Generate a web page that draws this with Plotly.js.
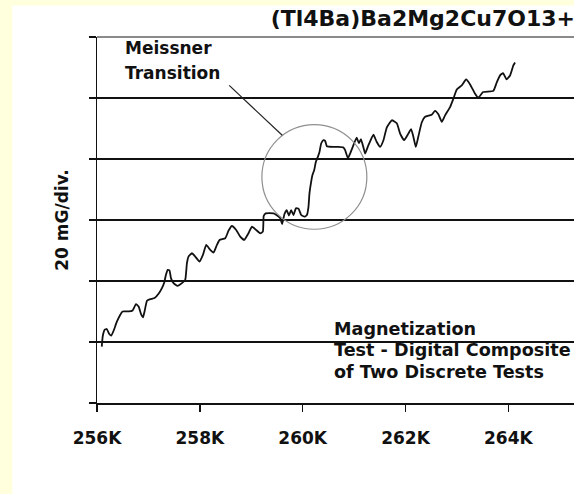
<!DOCTYPE html>
<html>
<head>
<meta charset="utf-8">
<script src="https://cdn.plot.ly/plotly-3.0.1.min.js"></script>
<style>
  html, body { margin: 0; padding: 0; background: #ffffdd; }
  #chart { width: 574px; height: 494px; }
</style>
</head>
<body>
<div id="chart"></div>
<script>
// Temperature (K) and magnetization signal (in 20 mG divisions above the baseline)
const temperatureK = [
  256.093, 256.113, 256.152, 256.190, 256.239, 256.278, 256.323, 256.389, 256.453, 256.498,
  256.614, 256.692, 256.758, 256.809, 256.861, 256.894, 256.925, 256.972, 257.036, 257.120,
  257.197, 257.263, 257.308, 257.341, 257.376, 257.411, 257.438, 257.489, 257.567, 257.652,
  257.716, 257.749, 257.780, 257.846, 257.911, 257.994, 258.060, 258.124, 258.202, 258.266,
  258.332, 258.383, 258.494, 258.558, 258.624, 258.707, 258.785, 258.863, 258.946, 259.013,
  259.096, 259.174, 259.226, 259.242, 259.281, 259.436, 259.504, 259.563, 259.601, 259.646,
  259.689, 259.734, 259.776, 259.821, 259.868, 259.918, 259.971, 260.035, 260.082, 260.113,
  260.132, 260.165, 260.190, 260.224, 260.257, 260.295, 260.327, 260.360, 260.404, 260.437,
  260.470, 260.599, 260.696, 260.793, 260.826, 260.879, 260.923, 260.987, 261.050, 261.094,
  261.133, 261.186, 261.215, 261.279, 261.376, 261.438, 261.506, 261.571, 261.637, 261.734,
  261.831, 261.895, 261.973, 262.056, 262.109, 262.154, 262.200, 262.251, 262.317, 262.381,
  262.507, 262.575, 262.639, 262.706, 262.770, 262.867, 262.931, 262.997, 263.094, 263.178,
  263.256, 263.353, 263.417, 263.508, 263.708, 263.775, 263.839, 263.897, 263.965, 264.033,
  264.097, 264.130
];
const signalDiv = [
  0.924, 1.103, 1.202, 1.213, 1.131, 1.103, 1.185, 1.337, 1.447, 1.501,
  1.501, 1.517, 1.622, 1.582, 1.447, 1.403, 1.501, 1.676, 1.703, 1.720,
  1.790, 1.883, 1.975, 2.101, 2.182, 2.171, 2.047, 1.965, 1.921, 1.965,
  2.019, 2.292, 2.400, 2.455, 2.400, 2.318, 2.428, 2.591, 2.509, 2.465,
  2.591, 2.673, 2.701, 2.825, 2.902, 2.836, 2.727, 2.673, 2.782, 2.890,
  2.836, 2.782, 2.809, 3.065, 3.109, 3.109, 3.073, 3.033, 2.934, 3.098,
  3.163, 3.073, 3.163, 3.082, 3.191, 3.188, 3.082, 3.054, 3.082, 3.217,
  3.436, 3.626, 3.736, 3.817, 3.953, 4.035, 4.116, 4.254, 4.308, 4.296,
  4.210, 4.198, 4.198, 4.188, 4.144, 4.013, 4.090, 4.226, 4.349, 4.259,
  4.324, 4.177, 4.090, 4.226, 4.398, 4.283, 4.198, 4.308, 4.520, 4.635,
  4.586, 4.417, 4.308, 4.417, 4.488, 4.362, 4.198, 4.373, 4.602, 4.692,
  4.725, 4.790, 4.733, 4.607, 4.716, 4.852, 4.989, 5.141, 5.207, 5.305,
  5.223, 5.071, 5.006, 5.097, 5.117, 5.256, 5.370, 5.408, 5.305, 5.370,
  5.534, 5.583
];
const tickValues = [256, 258, 260, 262, 264];
const tickLabels = ['256K', '258K', '260K', '262K', '264K'];
const divisionTicks = [0, 1, 2, 3, 4, 5, 6];
const gridDivisions = [1, 2, 3, 4, 5];

const titleText = '(Tl4Ba)Ba2Mg2Cu7O13+';
const noteTransition = ['Meissner', 'Transition'];
const noteTest = ['Magnetization', 'Test - Digital Composite', 'of Two Discrete Tests'];

// Marked transition region (circle) and pointer, in data units
const circleK = [259.207, 261.248];
const circleDiv = [2.848, 4.564];
const pointerK = [258.571, 259.602];
const pointerDiv = [5.207, 4.389];

// Layout geometry (pixels)
const W = 574, H = 494;
const L = 96.7, R = 0, T = 36.5, B = 90.5;
const plotW = W - L - R, plotH = H - T - B;
const px2x = p => (p - L) / plotW;
const py2y = p => (H - B - p) / plotH;

const FONT = '"DejaVu Sans", Verdana, sans-serif';
const INK = '#111';

const trace = {
  x: temperatureK, y: signalDiv, type: 'scatter', mode: 'lines',
  line: { color: INK, width: 1.8, shape: 'spline', smoothing: 0.4 },
  hoverinfo: 'skip', showlegend: false
};

const annotations = [];
noteTransition.forEach((t, i) => annotations.push({
  text: '<b>' + t + '</b>', xref: 'paper', yref: 'paper',
  x: px2x(123), y: py2y(48 + i * 25), xanchor: 'left', yanchor: 'middle',
  showarrow: false, font: { family: FONT, size: 17, color: INK }
}));
noteTest.forEach((t, i) => annotations.push({
  text: '<b>' + t + '</b>', xref: 'paper', yref: 'paper',
  x: px2x(332), y: py2y(329 + i * 21.5), xanchor: 'left', yanchor: 'middle',
  showarrow: false, font: { family: FONT, size: 17.6, color: INK }
}));

const layout = {
  width: W, height: H,
  margin: { l: L, r: R, t: T, b: B, pad: 0 },
  paper_bgcolor: '#ffffdd',
  plot_bgcolor: '#ffffff',
  showlegend: false,
  title: {
    text: '<b>' + titleText + '</b>',
    xref: 'paper', x: px2x(270.5), xanchor: 'left',
    yref: 'container', y: 1 - 18 / H, yanchor: 'middle',
    font: { family: FONT, size: 22, color: INK }
  },
  xaxis: {
    range: [256, 256 + plotW / 51.45],
    tickvals: tickValues, ticktext: tickLabels,
    ticks: 'outside', ticklen: 7, tickwidth: 1.5, tickcolor: INK,
    ticklabelstandoff: 12,
    showline: true, linecolor: INK, linewidth: 1.5,
    showgrid: false, zeroline: false,
    tickfont: { family: FONT, size: 17, color: INK, weight: 'bold' },
    fixedrange: true
  },
  yaxis: {
    range: [0, 6],
    tickvals: divisionTicks,
    showticklabels: false,
    ticks: 'outside', ticklen: 7, tickwidth: 1.5, tickcolor: INK,
    showline: true, linecolor: INK, linewidth: 1.5,
    showgrid: false, zeroline: false,
    title: { text: '<b>20 mG/div.</b>', standoff: 15, font: { family: FONT, size: 17, color: INK } },
    fixedrange: true
  },
  yaxis2: {
    overlaying: 'y', range: [0, 6], tickvals: gridDivisions,
    showticklabels: false, ticks: '', showline: false, zeroline: false,
    showgrid: true, gridcolor: INK, gridwidth: 1.5, fixedrange: true
  },
  shapes: [
    { type: 'rect', xref: 'paper', yref: 'paper', layer: 'below',
      x0: px2x(12), x1: 1, y0: py2y(H + 5), y1: py2y(5),
      fillcolor: '#ffffff', line: { width: 0 } },
    { type: 'line', xref: 'paper', yref: 'paper', x0: 0, x1: 1, y0: 1, y1: 1,
      line: { color: '#8a8a8a', width: 2 } },
    { type: 'circle', xref: 'x', yref: 'y',
      x0: circleK[0], x1: circleK[1], y0: circleDiv[0], y1: circleDiv[1],
      line: { color: '#8f8f8f', width: 1.2 } },
    { type: 'line', xref: 'x', yref: 'y',
      x0: pointerK[0], x1: pointerK[1], y0: pointerDiv[0], y1: pointerDiv[1],
      line: { color: '#222', width: 1.2 } }
  ],
  annotations: annotations
};

const gridTrace = { x: [], y: [], type: 'scatter', yaxis: 'y2', hoverinfo: 'skip', showlegend: false };

Plotly.newPlot('chart', [gridTrace, trace], layout, { displayModeBar: false, staticPlot: true });
</script>
</body>
</html>
